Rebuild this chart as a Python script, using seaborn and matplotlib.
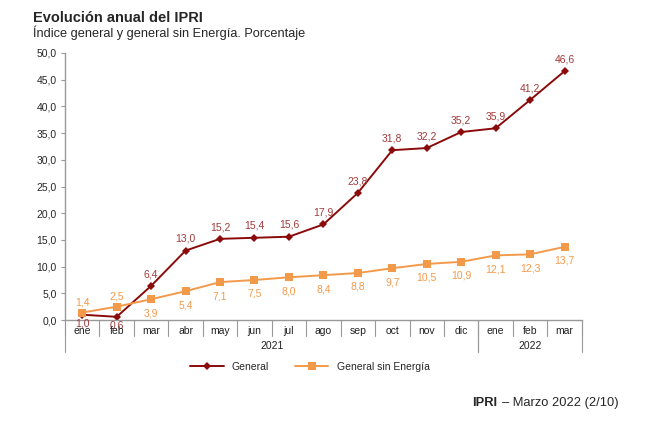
import pandas as pd
import seaborn as sns
import matplotlib.pyplot as plt

months = ["ene", "feb", "mar", "abr", "may", "jun", "jul", "ago", "sep", "oct", "nov", "dic",
          "ene", "feb", "mar"]
years = ["2021", "2022"]
year_span = [12, 3]
general = [1.0, 0.6, 6.4, 13.0, 15.2, 15.4, 15.6, 17.9, 23.8, 31.8, 32.2, 35.2, 35.9, 41.2, 46.6]
sin_energia = [1.4, 2.5, 3.9, 5.4, 7.1, 7.5, 8.0, 8.4, 8.8, 9.7, 10.5, 10.9, 12.1, 12.3, 13.7]

RED = "#8B0A0A"
RED_TXT = "#A23A3A"
ORANGE = "#F39A4A"

df = pd.DataFrame({
    "pos": list(range(len(months))) * 2,
    "valor": general + sin_energia,
    "serie": ["General"] * len(months) + ["General sin Energía"] * len(months),
})

sns.set_style("white")
plt.rcParams["font.family"] = ["Liberation Sans", "DejaVu Sans"]

fig = plt.figure(figsize=(6.5, 4.29), dpi=100)
ax = fig.add_axes([0.1, 0.254, 0.795, 0.6225])

sns.lineplot(data=df, x="pos", y="valor", hue="serie", style="serie",
             palette={"General": RED, "General sin Energía": ORANGE},
             markers={"General": "D", "General sin Energía": "s"},
             dashes=False, linewidth=1.4, markeredgewidth=0, ax=ax)
for l in ax.lines:
    if l.get_marker() == "D":
        l.set_markersize(4)
    else:
        l.set_markersize(5.5)

ax.set_xlim(-0.5, len(months) - 0.5)
ax.set_ylim(0, 50)
ax.set_yticks([i * 5 for i in range(11)])
ax.set_yticklabels([f"{i * 5:.1f}".replace(".", ",") for i in range(11)], fontsize=7.5)
ax.set_xticks([])
ax.set_xlabel("")
ax.set_ylabel("")
ax.tick_params(axis="y", length=3, color="#999999", pad=3, left=True)
for s in ["top", "right"]:
    ax.spines[s].set_visible(False)
for s in ["left", "bottom"]:
    ax.spines[s].set_color("#999999")
    ax.spines[s].set_linewidth(1)

# data labels
for i, v in enumerate(general):
    dy = -6 if i < 2 else 8.5
    ax.annotate(f"{v:.1f}".replace(".", ","), (i, v), xytext=(0, dy), textcoords="offset points",
                ha="center", va="center", fontsize=7.5, color=RED_TXT)
for i, v in enumerate(sin_energia):
    dy = 7 if i < 2 else -10
    ax.annotate(f"{v:.1f}".replace(".", ","), (i, v), xytext=(0, dy), textcoords="offset points",
                ha="center", va="center", fontsize=7.5, color=ORANGE)

# multi-level category axis
tr = ax.get_xaxis_transform()
for i, m in enumerate(months):
    ax.text(i, -0.042, m, transform=tr, ha="center", va="center", fontsize=7.5, color="#222222")
for b in range(len(months) + 1):
    ax.plot([b - 0.5, b - 0.5], [0, -0.06], transform=tr, color="#999999", lw=0.8, clip_on=False)
start = 0
for y, n in zip(years, year_span):
    ax.text(start + n / 2 - 0.5, -0.098, y, transform=tr, ha="center", va="center",
            fontsize=7.5, color="#222222")
    for b in (start, start + n):
        ax.plot([b - 0.5, b - 0.5], [0, -0.12], transform=tr, color="#999999", lw=0.8, clip_on=False)
    start += n

leg = ax.legend(loc="center", bbox_to_anchor=(0.474, -0.175), ncol=2, frameon=False,
                fontsize=7.5, handlelength=3.2, columnspacing=2.5)

fig.text(0.051, 0.958, "Evolución anual del IPRI", fontsize=10.5, fontweight="bold", ha="left", va="center")
fig.text(0.051, 0.923, "Índice general y general sin Energía. Porcentaje", fontsize=9.2, ha="left", va="center")
fig.text(0.727, 0.06, "IPRI", fontsize=9.3, fontweight="bold", ha="left", va="center")
fig.text(0.772, 0.06, "– Marzo 2022 (2/10)", fontsize=9.3, ha="left", va="center")

fig.savefig("out.png", dpi=100)
